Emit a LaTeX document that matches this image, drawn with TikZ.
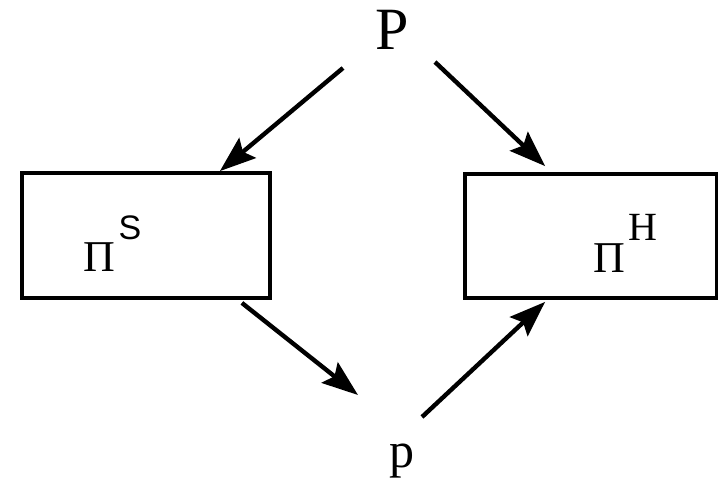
\documentclass[tikz,border=0pt]{standalone}
\usepackage{fontspec}
\usetikzlibrary{arrows.meta}
\newfontfamily\grk{Liberation Serif}
\newfontfamily\lsans{Liberation Sans}
\begin{document}
\begin{tikzpicture}[x=0.5pt,y=-0.5pt,
  boxst/.style={draw=black,line width=1.9pt,rectangle,inner sep=0pt},
  arr/.style={line width=2.2pt,-{Stealth[length=18pt,width=13pt,inset=3pt]}},
  lbl/.style={inner sep=0pt,anchor=center}]
\useasboundingbox (0,0) rectangle (718,483);
\node[lbl] (P) at (392,30) {\grk\fontsize{30}{32}\selectfont P};
\node[lbl] (p) at (402,461) {\grk\fontsize{25}{27}\selectfont p};
\node[boxst,minimum width=124pt,minimum height=62.5pt] (boxS) at (146,235.5) {};
\node[boxst,minimum width=126pt,minimum height=62pt] (boxH) at (591,236) {};
\node[lbl] (PiS) at (99,257) {\grk\fontsize{22}{24}\selectfont Π};
\node[lbl] (S) at (130,228) {\lsans\fontsize{17}{19}\selectfont S};
\node[lbl] (PiH) at (609,258) {\grk\fontsize{22}{24}\selectfont Π};
\node[lbl] (H) at (643,227) {\grk\fontsize{20}{22}\selectfont H};
\draw[arr] ([shift={(-49,38)}]P.center) -- ([shift={(-52,0)}]boxS.north east);
\draw[arr] ([shift={(43,32)}]P.center) -- ([shift={(82,-6)}]boxH.north west);
\draw[arr] ([shift={(-30,3)}]boxS.south east) -- ([shift={(-44,-66)}]p.center);
\draw[arr] ([shift={(20,-44)}]p.center) -- ([shift={(82,2)}]boxH.south west);
\end{tikzpicture}
\end{document}
